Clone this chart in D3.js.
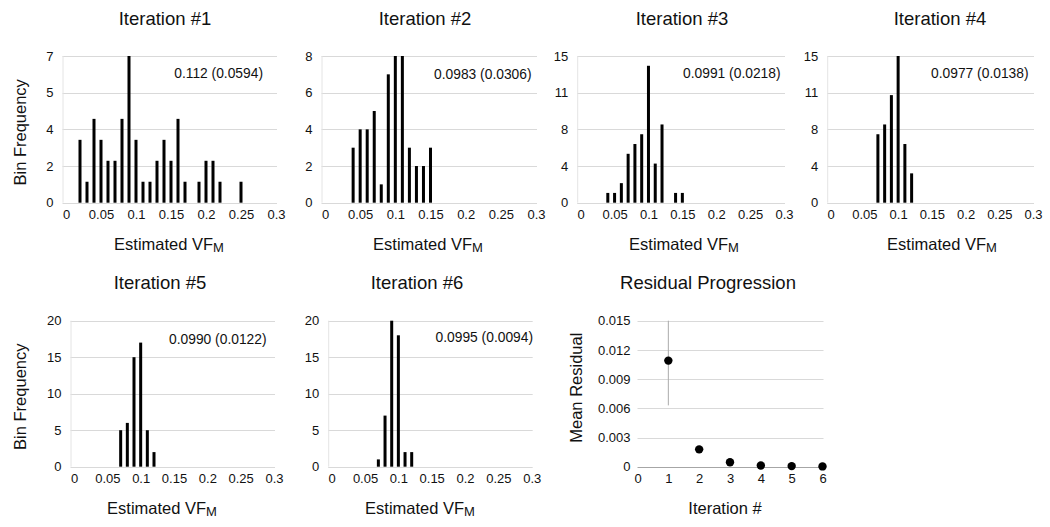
<!DOCTYPE html>
<html>
<head>
<meta charset="utf-8">
<script src="https://cdn.jsdelivr.net/npm/d3@7"></script>
<style>
  html, body { margin: 0; padding: 0; background: #fff; }
  svg { display: block; font-family: "Liberation Sans", Arial, Helvetica, sans-serif; }
</style>
</head>
<body>
<svg id="chart" width="1050" height="527"></svg>
<script>
// ---------------- DATA ----------------
const panelTitles = ["Iteration #1", "Iteration #2", "Iteration #3", "Iteration #4", "Iteration #5", "Iteration #6"];
const annotations = ["0.112 (0.0594)", "0.0983 (0.0306)", "0.0991 (0.0218)", "0.0977 (0.0138)", "0.0990 (0.0122)", "0.0995 (0.0094)"];

// histogram bins (estimated VF_M) and frequencies per iteration
const bins1 = [0.02, 0.03, 0.04, 0.05, 0.06, 0.07, 0.08, 0.09, 0.10, 0.11, 0.12, 0.13, 0.14, 0.15, 0.16, 0.17, 0.19, 0.20, 0.21, 0.22, 0.25];
const freq1 = [3, 1, 4, 3, 2, 2, 4, 7, 3, 1, 1, 2, 3, 2, 4, 1, 1, 2, 2, 1, 1];
const bins2 = [0.04, 0.05, 0.06, 0.07, 0.08, 0.09, 0.10, 0.11, 0.12, 0.13, 0.14, 0.15];
const freq2 = [3, 4, 4, 5, 1, 7, 8, 8, 3, 2, 2, 3];
const bins3 = [0.04, 0.05, 0.06, 0.07, 0.08, 0.09, 0.10, 0.11, 0.12, 0.14, 0.15];
const freq3 = [1, 1, 2, 5, 6, 7, 14, 4, 8, 1, 1];
const bins4 = [0.07, 0.08, 0.09, 0.10, 0.11, 0.12];
const freq4 = [7, 8, 11, 15, 6, 3];
const bins5 = [0.07, 0.08, 0.09, 0.10, 0.11, 0.12];
const freq5 = [5, 6, 15, 17, 5, 2];
const bins6 = [0.07, 0.08, 0.09, 0.10, 0.11, 0.12];
const freq6 = [1, 7, 20, 18, 2, 2];

// axis ticks
const xTicksHist = [0, 0.05, 0.1, 0.15, 0.2, 0.25, 0.3];
const xTickLabelsHist = ["0", "0.05", "0.1", "0.15", "0.2", "0.25", "0.3"];
const yMax = [7, 8, 15, 15, 20, 20];
const yTicks1 = [0, 1.75, 3.5, 5.25, 7];     const yTickLabels1 = ["0", "2", "4", "5", "7"];
const yTicks2 = [0, 2, 4, 6, 8];             const yTickLabels2 = ["0", "2", "4", "6", "8"];
const yTicks3 = [0, 3.75, 7.5, 11.25, 15];   const yTickLabels3 = ["0", "4", "8", "11", "15"];
const yTicks4 = [0, 3.75, 7.5, 11.25, 15];   const yTickLabels4 = ["0", "4", "8", "11", "15"];
const yTicks5 = [0, 5, 10, 15, 20];          const yTickLabels5 = ["0", "5", "10", "15", "20"];
const yTicks6 = [0, 5, 10, 15, 20];          const yTickLabels6 = ["0", "5", "10", "15", "20"];

// residual progression
const residTitle = "Residual Progression";
const iterations = [1, 2, 3, 4, 5, 6];
const meanResidual = [0.0109, 0.00178, 0.00045, 0.00012, 0.00006, 0.00003];
const residualErr = [0.0046, 0.0003, 0.0002, 0.0001, 0.00005, 0.00003];
const residXTicks = [0, 1, 2, 3, 4, 5, 6];
const residYTicks = [0, 0.003, 0.006, 0.009, 0.012, 0.015];
const residYTickLabels = ["0", "0.003", "0.006", "0.009", "0.012", "0.015"];

// ---------------- LAYOUT ----------------
const rows = [{ y0: 202.7, y1: 56 }, { y0: 466.7, y1: 320.7 }];
const histLayout = [
  { row: 0, x0: 66,    x1: 276,   tx: 165, ax: 169, annRight: 263 },
  { row: 0, x0: 325,   x1: 536,   tx: 425, ax: 428, annRight: 531.5 },
  { row: 0, x0: 580.7, x1: 784,   tx: 682, ax: 684, annRight: 780.5 },
  { row: 0, x0: 830.7, x1: 1033,  tx: 940, ax: 942, annRight: 1028.5 },
  { row: 1, x0: 74,    x1: 274,   tx: 160, ax: 162, annRight: 266.5 },
  { row: 1, x0: 331.7, x1: 531.7, tx: 417, ax: 420, annRight: 533 }
];
const annY = [72.7, 74, 73, 73, 339.3, 337.3];
const residLayout = { row: 1, x0: 637.5, x1: 822.5, tx: 708, ax: 725 };

const hBins = [bins1, bins2, bins3, bins4, bins5, bins6];
const hFreq = [freq1, freq2, freq3, freq4, freq5, freq6];
const hYTicks = [yTicks1, yTicks2, yTicks3, yTicks4, yTicks5, yTicks6];
const hYLabels = [yTickLabels1, yTickLabels2, yTickLabels3, yTickLabels4, yTickLabels5, yTickLabels6];

const svg = d3.select("#chart");
const gridColor = "#d9d9d9";
const textColor = "#111";
const tickFont = 13;

function xAxisTitle(g, cx, y) {
  const t = g.append("text").attr("x", cx).attr("y", y).attr("text-anchor", "middle")
    .attr("font-size", 16.5).attr("fill", textColor);
  t.append("tspan").text("Estimated VF");
  t.append("tspan").attr("dy", 2).attr("font-size", 13).text("M");
}

histLayout.forEach((L, i) => {
  const R = rows[L.row];
  const g = svg.append("g");
  const x = d3.scaleLinear().domain([0, 0.3]).range([L.x0, L.x1]);
  const y = d3.scaleLinear().domain([0, yMax[i]]).range([R.y0, R.y1]);
  const gl = L.x0 - 3.5, gr = L.x1 + 1;

  // gridlines
  g.append("g").selectAll("line").data(hYTicks[i]).join("line")
    .attr("x1", gl).attr("x2", gr)
    .attr("y1", d => Math.round(y(d)) + 0.5).attr("y2", d => Math.round(y(d)) + 0.5)
    .attr("stroke", gridColor).attr("stroke-width", 1);
  // faint left axis line
  g.append("line").attr("x1", gl + 0.5).attr("x2", gl + 0.5)
    .attr("y1", y(yMax[i])).attr("y2", y(0)).attr("stroke", "#e4e4e4");

  // y axis labels
  const yAxis = d3.axisLeft(y).tickValues(hYTicks[i]).tickSize(0).tickPadding(0)
    .tickFormat((d, k) => hYLabels[i][k]);
  const ya = g.append("g").attr("transform", `translate(${gl - 9},0)`).call(yAxis);
  ya.select(".domain").remove();
  ya.selectAll("text").attr("font-size", tickFont).attr("fill", textColor)
    .attr("font-family", "Liberation Sans, Arial, sans-serif");

  // x axis labels
  const xAxis = d3.axisBottom(x).tickValues(xTicksHist).tickSize(0).tickPadding(0)
    .tickFormat((d, k) => xTickLabelsHist[k]);
  const xa = g.append("g").attr("transform", `translate(0,${R.y0 + 7.5})`).call(xAxis);
  xa.select(".domain").remove();
  xa.selectAll("text").attr("font-size", tickFont).attr("fill", textColor)
    .attr("font-family", "Liberation Sans, Arial, sans-serif");

  // bars
  const bw = 3;
  g.append("g").selectAll("rect").data(hBins[i].map((b, k) => ({ b, f: hFreq[i][k] }))).join("rect")
    .attr("x", d => x(d.b) - bw / 2).attr("width", bw)
    .attr("y", d => y(d.f)).attr("height", d => y(0) - y(d.f))
    .attr("fill", "#000");

  // title
  g.append("text").attr("x", L.tx).attr("y", R.y1 - 31.5).attr("text-anchor", "middle")
    .attr("font-size", 18.5).attr("fill", textColor).text(panelTitles[i]);

  // annotation
  g.append("text").attr("x", L.annRight).attr("y", annY[i] + 5).attr("text-anchor", "end")
    .attr("font-size", 13.8).attr("fill", textColor).text(annotations[i]);

  // x axis title
  xAxisTitle(g, L.ax, R.y0 + 47);

  // y axis title (first column only)
  if (i === 0 || i === 4) {
    const cy = (R.y0 + R.y1) / 2 + 3;
    g.append("text").attr("transform", `translate(26,${cy}) rotate(-90)`)
      .attr("text-anchor", "middle").attr("font-size", 16.5).attr("fill", textColor)
      .text("Bin Frequency");
  }
});

// ---------------- RESIDUAL PANEL ----------------
(function () {
  const L = residLayout, R = rows[L.row];
  const g = svg.append("g");
  const x = d3.scaleLinear().domain([0, 6]).range([L.x0, L.x1]);
  const y = d3.scaleLinear().domain([0, 0.015]).range([R.y0, R.y1]);

  g.append("g").selectAll("line").data(residYTicks.filter(d => d > 0)).join("line")
    .attr("x1", L.x0).attr("x2", L.x1 + 1)
    .attr("y1", d => Math.round(y(d)) + 0.5).attr("y2", d => Math.round(y(d)) + 0.5)
    .attr("stroke", gridColor);
  g.append("line").attr("x1", L.x0).attr("x2", L.x1 + 1)
    .attr("y1", Math.round(y(0)) + 0.5).attr("y2", Math.round(y(0)) + 0.5)
    .attr("stroke", "#a6a6a6").attr("stroke-width", 1);

  const yAxis = d3.axisLeft(y).tickValues(residYTicks).tickSize(0).tickPadding(0)
    .tickFormat((d, k) => residYTickLabels[k]);
  const ya = g.append("g").attr("transform", `translate(${L.x0 - 7},0)`).call(yAxis);
  ya.select(".domain").remove();
  ya.selectAll("text").attr("font-size", tickFont).attr("fill", textColor)
    .attr("font-family", "Liberation Sans, Arial, sans-serif");

  const xAxis = d3.axisBottom(x).tickValues(residXTicks).tickSize(0).tickPadding(0)
    .tickFormat(d3.format("d"));
  const xa = g.append("g").attr("transform", `translate(0,${R.y0 + 7.5})`).call(xAxis);
  xa.select(".domain").remove();
  xa.selectAll("text").attr("font-size", tickFont).attr("fill", textColor)
    .attr("font-family", "Liberation Sans, Arial, sans-serif");

  const pts = iterations.map((it, k) => ({ it, m: meanResidual[k], e: residualErr[k] }));
  g.append("g").selectAll("line").data(pts).join("line")
    .attr("x1", d => x(d.it)).attr("x2", d => x(d.it))
    .attr("y1", d => y(Math.max(0, d.m - d.e))).attr("y2", d => y(Math.min(0.015, d.m + d.e)))
    .attr("stroke", "#aaaaaa").attr("stroke-width", 1);
  g.append("g").selectAll("circle").data(pts).join("circle")
    .attr("cx", d => x(d.it)).attr("cy", d => y(d.m)).attr("r", 4.2).attr("fill", "#000");

  g.append("text").attr("x", L.tx).attr("y", R.y1 - 31.5).attr("text-anchor", "middle")
    .attr("font-size", 18.5).attr("fill", textColor).text(residTitle);
  g.append("text").attr("x", L.ax).attr("y", R.y0 + 47).attr("text-anchor", "middle")
    .attr("font-size", 16.5).attr("fill", textColor).text("Iteration #");
  g.append("text").attr("transform", `translate(582,${(R.y0 + R.y1) / 2 - 6}) rotate(-90)`)
    .attr("text-anchor", "middle").attr("font-size", 16.5).attr("fill", textColor)
    .text("Mean Residual");
})();
</script>
</body>
</html>
